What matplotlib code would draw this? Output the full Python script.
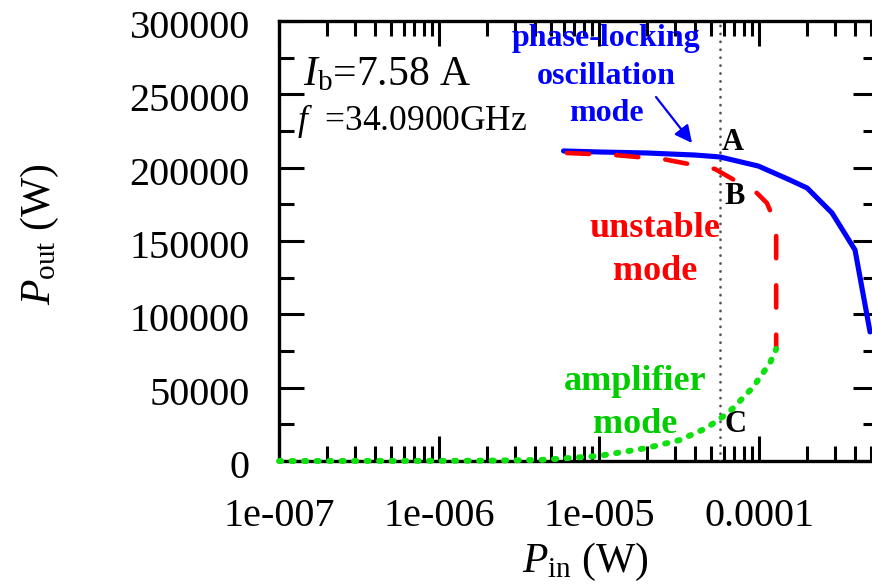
import matplotlib
matplotlib.use("Agg")
import matplotlib.pyplot as plt
from matplotlib.transforms import ScaledTranslation
from matplotlib.ticker import FixedLocator, FixedFormatter, LogLocator, NullFormatter, MultipleLocator

# ---- data -------------------------------------------------------------
# phase-locking oscillation branch
pin_lock = [6.0e-6, 1.0e-5, 2.0e-5, 4.0e-5, 5.7e-5, 9.9e-5, 1.56e-4, 2.0e-4, 2.86e-4, 3.98e-4, 4.94e-4]
pout_lock = [211400, 210700, 210000, 208600, 207300, 201100, 191600, 186100, 169100, 143900, 88000]

# unstable branch
pin_unst = [6.3e-6, 1.26e-5, 2.58e-5, 5.3e-5, 9.7e-5, 1.12e-4, 1.28e-4, 1.28e-4]
pout_unst = [210000, 208600, 205600, 199100, 182700, 175900, 160900, 76500]

# amplifier branch
pin_amp = [1e-7, 1e-6, 2e-6, 4.3e-6, 9.9e-6, 2.0e-5, 3.2e-5, 4.7e-5, 5.9e-5, 6.9e-5, 9.2e-5, 1.17e-4, 1.28e-4]
pout_amp = [0, 100, 250, 700, 3400, 8900, 14300, 22500, 30000, 36100, 50500, 66800, 76400]

# operating drive level marked by the dotted line
pin_mark = 5.7e-5

x_ticks = [1e-7, 1e-6, 1e-5, 1e-4, 1e-3]
x_tick_labels = ["1e-007", "1e-006", "1e-005", "0.0001", "0.001"]
y_ticks = [0, 50000, 100000, 150000, 200000, 250000, 300000]
y_tick_labels = ["0", "50000", "100000", "150000", "200000", "250000", "300000"]

# ---- style ------------------------------------------------------------
plt.rcParams["font.family"] = ["Liberation Serif", "DejaVu Serif"]
plt.rcParams["mathtext.fontset"] = "custom"
plt.rcParams["mathtext.rm"] = "Liberation Serif"
plt.rcParams["mathtext.it"] = "Liberation Serif:italic"
plt.rcParams["mathtext.bf"] = "Liberation Serif:bold"
plt.rcParams["lines.scale_dashes"] = False

W, H = 872, 586
fig = plt.figure(figsize=(W / 100, H / 100), dpi=100)

ax_left, ax_right, ax_bottom, ax_top = 279, 877.5, 461, 21
ax = fig.add_axes([ax_left / W, 1 - ax_bottom / H, (ax_right - ax_left) / W, (ax_bottom - ax_top) / H])

ax.set_xscale("log")
ax.set_xlim(1e-7, 5.5e-4)
ax.set_ylim(0, 300000)


def axpos(px, py):
    return ((px - ax_left) / (ax_right - ax_left), (ax_bottom - py) / (ax_bottom - ax_top))


# curves
ax.plot(pin_lock, pout_lock, color="#0000ff", lw=3.7, solid_capstyle="round", zorder=4)
ax.plot(pin_unst, pout_unst, color="#ff0000", lw=3.3, dashes=(16, 19.5),
        dash_capstyle="round", zorder=4)
ax.plot(pin_amp, pout_amp, color="#10e010", lw=4.3, dashes=(1.6, 7.4),
        dash_capstyle="round", zorder=5, clip_on=False)
ax.axvline(pin_mark, color="#555555", lw=2.0, dashes=(0.1, 5.6), dash_capstyle="round", zorder=3)

# axes frame and ticks
for s in ax.spines.values():
    s.set_linewidth(2.4)
ax.xaxis.set_major_locator(FixedLocator(x_ticks))
ax.xaxis.set_major_formatter(FixedFormatter(x_tick_labels))
ax.xaxis.set_minor_locator(LogLocator(base=10, subs=[2, 3, 4, 5, 6, 7, 8, 9], numticks=20))
ax.xaxis.set_minor_formatter(NullFormatter())
ax.yaxis.set_major_locator(FixedLocator(y_ticks))
ax.yaxis.set_major_formatter(FixedFormatter(y_tick_labels))
ax.yaxis.set_minor_locator(MultipleLocator(25000))
ax.tick_params(which="both", direction="in", top=True, right=True, width=2.2, labelsize=29)
ax.tick_params(which="major", length=18)
ax.tick_params(which="minor", length=10.8)
ax.tick_params(axis="x", which="major", pad=27)
ax.tick_params(axis="y", which="major", pad=21)
shift_down = ScaledTranslation(0, -3 / 100, fig.dpi_scale_trans)
for lab in ax.get_yticklabels():
    lab.set_transform(lab.get_transform() + shift_down)

# axis titles
fig.text(40 / W, 1 - 234 / H, r"$P_{\mathrm{out}}$ (W)", rotation=90, ha="center", va="center", fontsize=30)
fig.text(585 / W, 1 - 562 / H, r"$P_{\mathrm{in}}$ (W)", ha="center", va="center", fontsize=30)

# parameter notes
ax.text(*axpos(303, 85), r"$I_{\mathrm{b}}$=7.58 A", transform=ax.transAxes, fontsize=30,
        ha="left", va="baseline")
ax.text(*axpos(297, 130), r"$f$  =34.0900GHz", transform=ax.transAxes, fontsize=25.5,
        ha="left", va="baseline")

# mode labels
ax.text(*axpos(606, 76), "phase-locking\noscillation\nmode", transform=ax.transAxes, color="#0000ff",
        fontsize=23, fontweight="bold", ha="center", va="center", linespacing=1.38)
ax.annotate("", xy=axpos(692, 143), xytext=axpos(656, 97), xycoords="axes fraction",
            textcoords="axes fraction",
            arrowprops=dict(arrowstyle="-|>", color="#0000ff", lw=1.6, mutation_scale=26,
                            shrinkA=0, shrinkB=0))
ax.text(*axpos(655, 250), "unstable\nmode", transform=ax.transAxes, color="#ff0000",
        fontsize=26, fontweight="bold", ha="center", va="center", linespacing=1.37)
ax.text(*axpos(635, 403), "amplifier\nmode", transform=ax.transAxes, color="#00cc00",
        fontsize=26, fontweight="bold", ha="center", va="center", linespacing=1.42)

# operating points
for lab, px, py in [("A", 733, 143), ("B", 735, 197), ("C", 735, 425)]:
    ax.text(*axpos(px, py), lab, transform=ax.transAxes, fontsize=22, fontweight="bold",
            ha="center", va="center")

fig.savefig("out.png", dpi=100)
